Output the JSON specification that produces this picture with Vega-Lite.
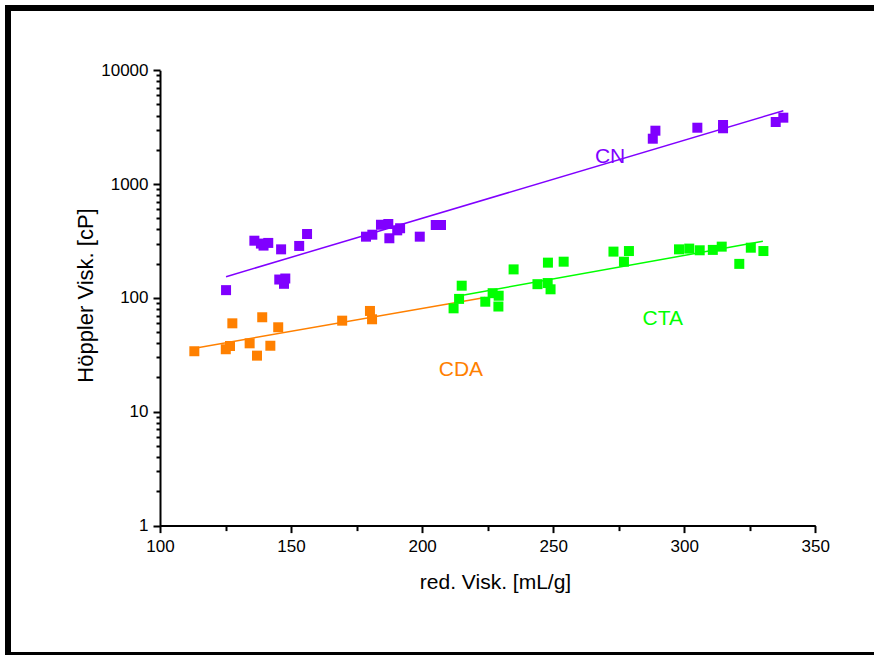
{
  "$schema": "https://vega.github.io/schema/vega-lite/v6.json",
  "width": 870,
  "height": 647,
  "autosize": "none",
  "padding": {"left": 8, "top": 8, "right": 0, "bottom": 0},
  "background": "white",
  "view": {"stroke": "black", "strokeWidth": 6, "strokeDash": [866, 655, 1513, 1]},
  "config": {
    "font": "Liberation Sans",
    "axis": {"grid": false, "domainColor": "black", "tickColor": "black", "labelColor": "black", "titleColor": "black", "domainWidth": 2, "tickWidth": 2, "labelFont": "Liberation Sans", "titleFont": "Liberation Sans", "titleFontWeight": "normal", "labelFlush": false, "labelOverlap": false}
  },
  "datasets": {
    "pts": [
      {"series": "CN", "rv": 125.2, "hv": 117},
      {"series": "CN", "rv": 136.0, "hv": 318},
      {"series": "CN", "rv": 138.5, "hv": 300},
      {"series": "CN", "rv": 139.5, "hv": 288},
      {"series": "CN", "rv": 141.3, "hv": 304},
      {"series": "CN", "rv": 146.2, "hv": 267},
      {"series": "CN", "rv": 153.1, "hv": 286},
      {"series": "CN", "rv": 156.1, "hv": 364},
      {"series": "CN", "rv": 145.5, "hv": 145},
      {"series": "CN", "rv": 147.8, "hv": 148},
      {"series": "CN", "rv": 147.3, "hv": 133},
      {"series": "CN", "rv": 178.6, "hv": 345},
      {"series": "CN", "rv": 181.0, "hv": 359},
      {"series": "CN", "rv": 184.3, "hv": 439},
      {"series": "CN", "rv": 187.1, "hv": 446},
      {"series": "CN", "rv": 187.5, "hv": 334},
      {"series": "CN", "rv": 190.5, "hv": 392},
      {"series": "CN", "rv": 191.6, "hv": 409},
      {"series": "CN", "rv": 199.1, "hv": 345},
      {"series": "CN", "rv": 205.2, "hv": 437},
      {"series": "CN", "rv": 207.2, "hv": 437},
      {"series": "CN", "rv": 288.0, "hv": 2502},
      {"series": "CN", "rv": 289.0, "hv": 2942},
      {"series": "CN", "rv": 305.0, "hv": 3125},
      {"series": "CN", "rv": 314.8, "hv": 3302},
      {"series": "CN", "rv": 314.8, "hv": 3090},
      {"series": "CN", "rv": 334.9, "hv": 3508},
      {"series": "CN", "rv": 337.8, "hv": 3828},
      {"series": "CDA", "rv": 113.1, "hv": 34.0},
      {"series": "CDA", "rv": 125.1, "hv": 35.4},
      {"series": "CDA", "rv": 126.7, "hv": 37.8},
      {"series": "CDA", "rv": 127.6, "hv": 59.8},
      {"series": "CDA", "rv": 134.2, "hv": 39.9},
      {"series": "CDA", "rv": 137.0, "hv": 31.1},
      {"series": "CDA", "rv": 139.0, "hv": 67.6},
      {"series": "CDA", "rv": 142.1, "hv": 38.0},
      {"series": "CDA", "rv": 145.1, "hv": 55.2},
      {"series": "CDA", "rv": 169.5, "hv": 63.1},
      {"series": "CDA", "rv": 180.1, "hv": 76.8},
      {"series": "CDA", "rv": 180.9, "hv": 64.9},
      {"series": "CTA", "rv": 212.0, "hv": 81},
      {"series": "CTA", "rv": 214.1, "hv": 98},
      {"series": "CTA", "rv": 215.1, "hv": 128},
      {"series": "CTA", "rv": 224.1, "hv": 92.6},
      {"series": "CTA", "rv": 226.9, "hv": 110},
      {"series": "CTA", "rv": 229.2, "hv": 104.5},
      {"series": "CTA", "rv": 229.1, "hv": 84},
      {"series": "CTA", "rv": 234.9, "hv": 178},
      {"series": "CTA", "rv": 244.0, "hv": 132},
      {"series": "CTA", "rv": 247.9, "hv": 135},
      {"series": "CTA", "rv": 249.0, "hv": 119},
      {"series": "CTA", "rv": 248.0, "hv": 204},
      {"series": "CTA", "rv": 254.0, "hv": 208},
      {"series": "CTA", "rv": 273.0, "hv": 255},
      {"series": "CTA", "rv": 277.0, "hv": 208},
      {"series": "CTA", "rv": 278.9, "hv": 258},
      {"series": "CTA", "rv": 298.0, "hv": 267},
      {"series": "CTA", "rv": 301.9, "hv": 271},
      {"series": "CTA", "rv": 305.9, "hv": 262},
      {"series": "CTA", "rv": 310.9, "hv": 264},
      {"series": "CTA", "rv": 314.3, "hv": 282},
      {"series": "CTA", "rv": 321.0, "hv": 199},
      {"series": "CTA", "rv": 325.4, "hv": 276},
      {"series": "CTA", "rv": 330.2, "hv": 258}
    ],
    "fits": [
      {"series": "CN", "rv": 125.2, "hv": 153.6},
      {"series": "CN", "rv": 337.8, "hv": 4408},
      {"series": "CDA", "rv": 112.7, "hv": 36},
      {"series": "CDA", "rv": 224.0, "hv": 101},
      {"series": "CTA", "rv": 213.8, "hv": 104},
      {"series": "CTA", "rv": 330.0, "hv": 314}
    ],
    "labels": [
      {"series": "CN", "rv": 271.7, "hv": 1738, "txt": "CN"},
      {"series": "CTA", "rv": 291.8, "hv": 64.9, "txt": "CTA"},
      {"series": "CDA", "rv": 214.8, "hv": 23.3, "txt": "CDA"}
    ]
  },
  "layer": [
    {
      "data": {"name": "fits"},
      "mark": {"type": "line", "strokeWidth": 1.5},
      "encoding": {
        "x": {"field": "rv", "type": "quantitative",
          "scale": {"type": "linear", "domain": [100, 350], "range": [152, 807.3], "nice": false, "zero": false},
          "axis": {"orient": "bottom", "offset": -129.4, "values": [125, 175, 225, 275, 325], "labels": false, "domain": false, "tickSize": 5, "title": null}},
        "y": {"field": "hv", "type": "quantitative",
          "scale": {"type": "log", "domain": [1, 10000], "range": [517.6, 62.2], "nice": false},
          "axis": {"orient": "left", "offset": -152, "values": [2,3,4,5,6,7,8,9,20,30,40,50,60,70,80,90,200,300,400,500,600,700,800,900,2000,3000,4000,5000,6000,7000,8000,9000], "labels": false, "domain": false, "tickSize": 4, "title": null}},
        "color": {"field": "series", "type": "nominal", "scale": {"domain": ["CN", "CDA", "CTA"], "range": ["#8000ff", "#ff8000", "#00ff00"]}, "legend": null},
        "detail": {"field": "series"}
      }
    },
    {
      "data": {"name": "pts"},
      "mark": {"type": "square", "size": 100, "filled": true, "opacity": 1},
      "encoding": {
        "x": {"field": "rv", "type": "quantitative",
          "axis": {"orient": "bottom", "offset": -129.4, "values": [100, 150, 200, 250, 300, 350], "tickSize": 7, "labelFontSize": 17, "labelPadding": 6,
            "title": "red. Visk. [mL/g]", "titleFontSize": 21, "titleX": 487, "titleY": 63, "titleBaseline": "alphabetic", "titleAlign": "center", "titleAnchor": null}},
        "y": {"field": "hv", "type": "quantitative",
          "axis": {"orient": "left", "offset": -152, "values": [1, 10, 100, 1000, 10000], "format": "d", "tickSize": 7, "labelFontSize": 17, "labelPadding": 5,
            "title": "Höppler Visk. [cP]", "titleFontSize": 22, "titleAngle": 270, "titleX": -75, "titleY": 287, "titleBaseline": "middle", "titleAlign": "center"}},
        "color": {"field": "series", "type": "nominal", "legend": null}
      }
    },
    {
      "data": {"name": "labels"},
      "mark": {"type": "text", "fontSize": 21, "align": "center", "baseline": "middle", "font": "Liberation Sans"},
      "encoding": {
        "x": {"field": "rv", "type": "quantitative", "axis": null},
        "y": {"field": "hv", "type": "quantitative", "axis": null},
        "text": {"field": "txt"},
        "color": {"field": "series", "type": "nominal", "legend": null}
      }
    }
  ],
  "resolve": {"axis": {"x": "independent", "y": "independent"}}
}
